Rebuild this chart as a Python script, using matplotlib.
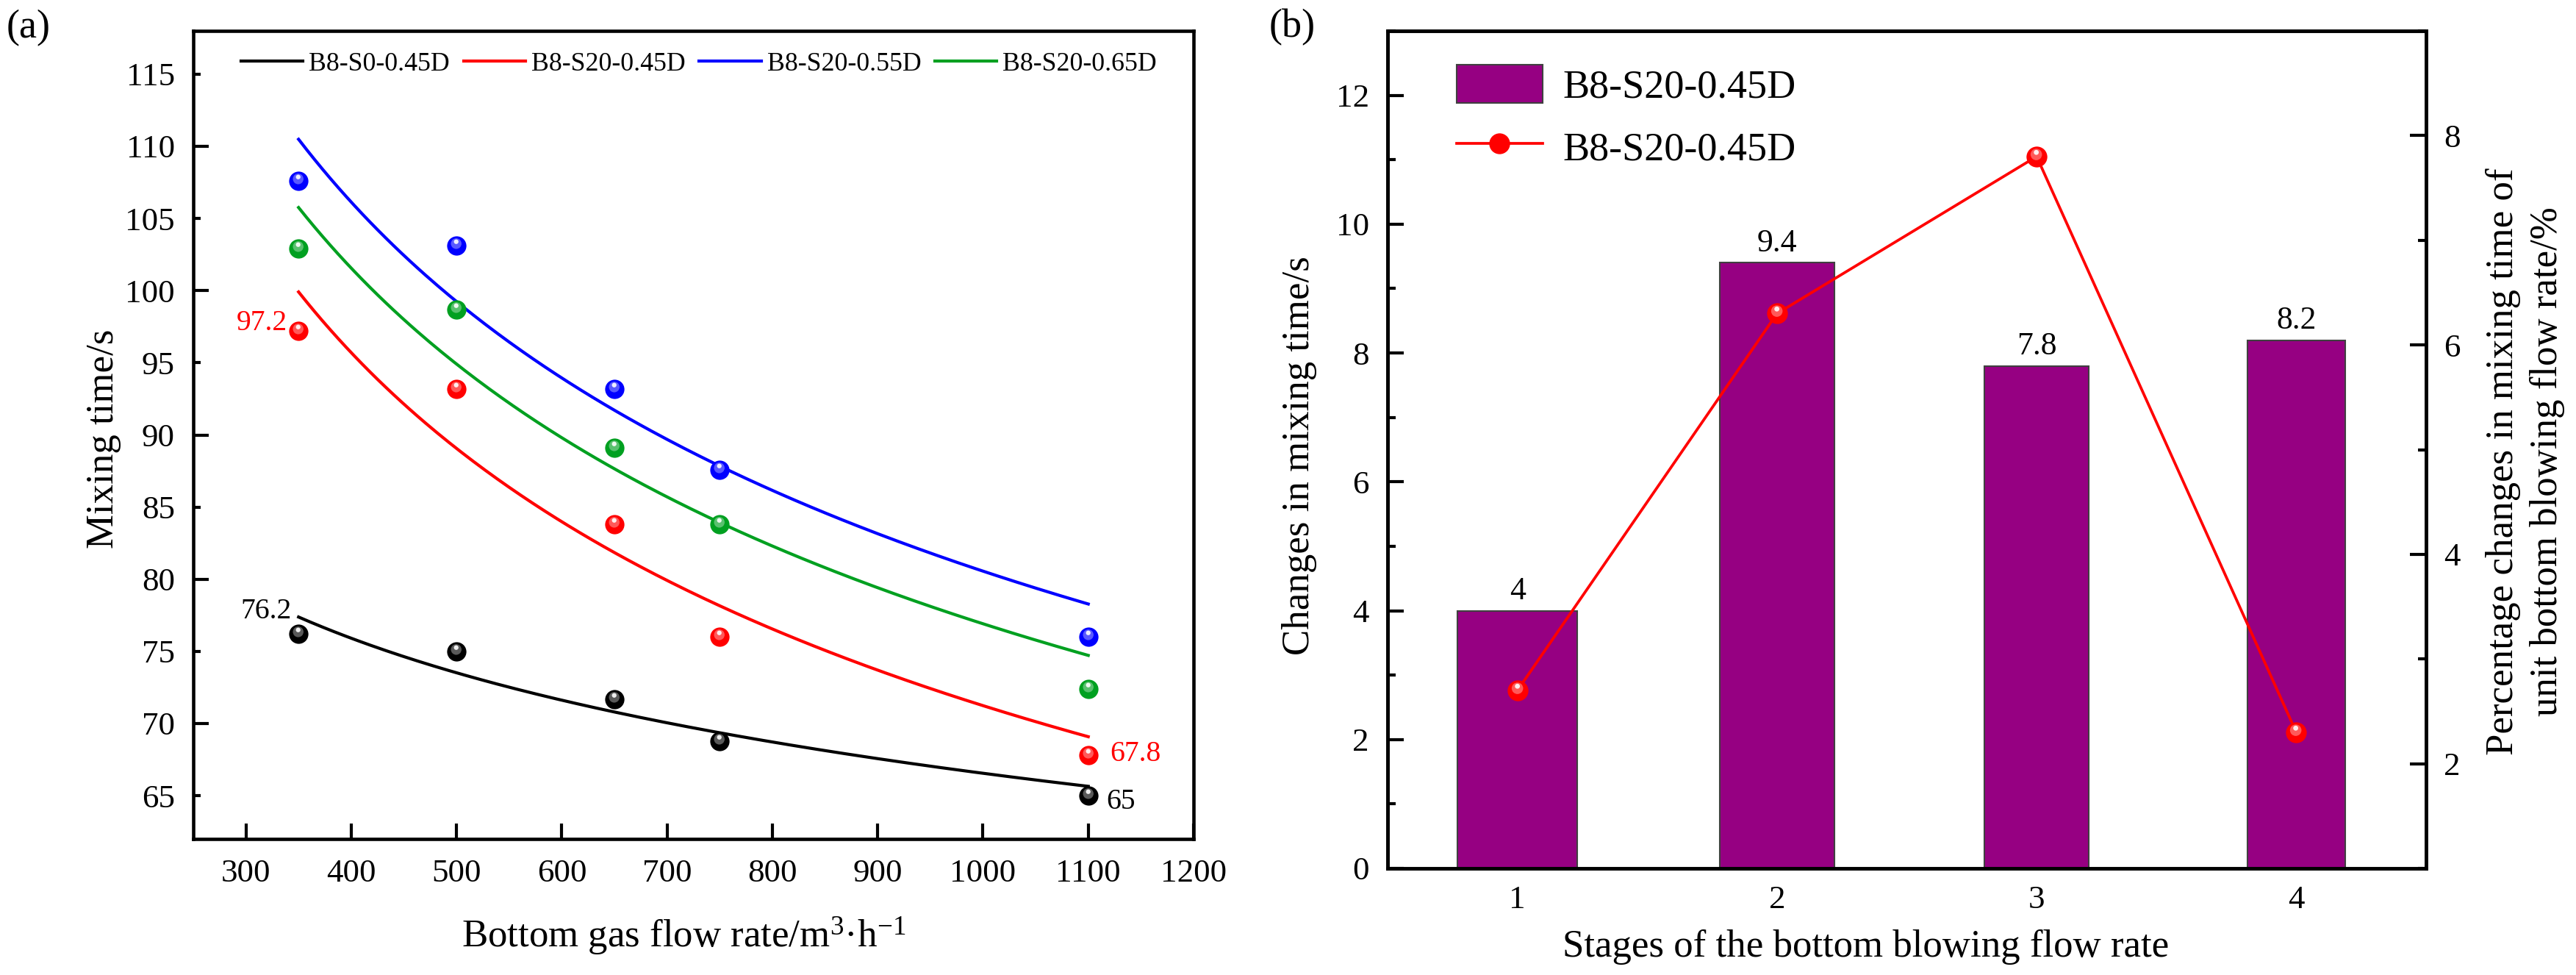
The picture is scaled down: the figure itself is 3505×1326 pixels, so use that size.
import numpy as np
import matplotlib
matplotlib.use('Agg')
import matplotlib.pyplot as plt
from matplotlib.markers import MarkerStyle
from matplotlib.transforms import Affine2D
from matplotlib.ticker import MultipleLocator, FixedLocator, FuncFormatter
from matplotlib.patches import Patch
from matplotlib.lines import Line2D
from matplotlib.colors import to_rgb

plt.rcParams['font.family'] = ['Liberation Serif', 'DejaVu Serif']
plt.rcParams['mathtext.fontset'] = 'custom'
plt.rcParams['mathtext.rm'] = 'Liberation Serif'
plt.rcParams['mathtext.it'] = 'Liberation Serif:italic'

# ---- data, panel (a): mixing time vs bottom gas flow rate
flow = [350, 500, 650, 750, 1100]
names = ['B8-S0-0.45D', 'B8-S20-0.45D', 'B8-S20-0.55D', 'B8-S20-0.65D']
t_s0_045 = [76.2, 75.0, 71.7, 68.8, 65.0]
t_s20_045 = [97.2, 93.2, 83.8, 76.0, 67.8]
t_s20_055 = [107.6, 103.1, 93.2, 87.6, 76.0]
t_s20_065 = [102.9, 98.7, 89.1, 83.8, 72.4]

# ---- data, panel (b): changes per stage
stages = [1, 2, 3, 4]
delta_t = [4, 9.4, 7.8, 8.2]
pct_change = [2.7, 6.3, 7.8, 2.3]
bar_name = 'B8-S20-0.45D'
line_name = 'B8-S20-0.45D'

colors = ['black', '#FF0000', '#0000FF', '#00A020']
purple = '#960082'
bar_widths = [0.46, 0.44, 0.40, 0.375]


def power_fit(x, y):
    # allometric fit y = a*x^b, least squares in linear space
    x = np.asarray(x, float)
    y = np.asarray(y, float)
    b, lna = np.polyfit(np.log(x), np.log(y), 1)
    a = np.exp(lna)
    for _ in range(40):
        f = a * x**b
        J = np.column_stack([x**b, a * x**b * np.log(x)])
        step = np.linalg.lstsq(J, y - f, rcond=None)[0]
        a += step[0]
        b += step[1]
    return a, b


def lighten(c, k):
    r, g, b = to_rgb(c)
    return (r + (1 - r) * k, g + (1 - g) * k, b + (1 - b) * k)


def balls(ax, x, y, color, ms, z=4):
    # shaded sphere markers
    ax.plot(x, y, ls='none', marker='o', ms=ms, color=color, mew=0, zorder=z)
    m1 = MarkerStyle('o', transform=Affine2D().scale(0.55).translate(-0.03, 0.12))
    ax.plot(x, y, ls='none', marker=m1, ms=ms, color=lighten(color, 0.35), mew=0, zorder=z)
    m2 = MarkerStyle('o', transform=Affine2D().scale(0.24).translate(-0.03, 0.22))
    ax.plot(x, y, ls='none', marker=m2, ms=ms, color='white', alpha=0.9, mew=0, zorder=z)


W, H = 3505, 1326
fig = plt.figure(figsize=(W / 300, H / 300), dpi=300)

# ================= panel (a)
ax1 = fig.add_axes([263 / W, 1 - 1141 / H, (1624 - 263) / W, (1141 - 42) / H])
xs = np.linspace(flow[0], flow[-1], 200)
for ys, c, nm in zip([t_s0_045, t_s20_045, t_s20_055, t_s20_065], colors, names):
    a, b = power_fit(flow, ys)
    ax1.plot(xs, a * xs**b, color=c, lw=1.0, label=nm, zorder=3)
    balls(ax1, flow, ys, c, 6.3)

ax1.annotate(f'{t_s20_045[0]:g}', xy=(flow[0], t_s20_045[0]), xytext=(-3.8, 2.6),
             textcoords='offset points', ha='right', va='center', color='red', fontsize=9.5)
ax1.annotate(f'{t_s0_045[0]:g}', xy=(flow[0], t_s0_045[0]), xytext=(-2.4, 7.5),
             textcoords='offset points', ha='right', va='center', color='black', fontsize=9.5)
ax1.annotate(f'{t_s20_045[-1]:g}', xy=(flow[-1], t_s20_045[-1]), xytext=(7, 0.5),
             textcoords='offset points', ha='left', va='center', color='red', fontsize=9.5)
ax1.annotate(f'{t_s0_045[-1]:g}', xy=(flow[-1], t_s0_045[-1]), xytext=(6, -2),
             textcoords='offset points', ha='left', va='center', color='black', fontsize=9.5)

ax1.set_xlim(250, 1200)
ax1.set_ylim(62, 118)
ax1.xaxis.set_major_locator(MultipleLocator(100))
ax1.yaxis.set_major_locator(FixedLocator([70, 80, 90, 100, 110]))
ax1.yaxis.set_minor_locator(FixedLocator([65, 75, 85, 95, 105, 115]))
ax1.yaxis.set_minor_formatter(FuncFormatter(lambda v, p: f'{v:g}'))
ax1.tick_params(which='both', direction='in', top=False, right=False,
                labelsize=10.8, width=1.0)
ax1.tick_params(axis='y', which='major', length=5, pad=6)
ax1.tick_params(axis='y', which='minor', length=2.4, pad=6)
ax1.tick_params(axis='x', which='major', length=5, pad=6.5)
for s in ax1.spines.values():
    s.set_linewidth(1.1)

ax1.set_xlabel('Bottom gas flow rate/m$^{3}$·h$^{-1}$', fontsize=12.7)
ax1.xaxis.set_label_coords(0.49, -0.120)
ax1.xaxis.label.set_va('center')
ax1.set_ylabel('Mixing time/s', fontsize=12.7)
ax1.yaxis.set_label_coords(-0.0896, 0.495)
ax1.yaxis.label.set_va('center')

ax1.legend(loc='center left', bbox_to_anchor=(0.0478, 0.959), ncol=4, frameon=False,
           fontsize=8.6, handlelength=2.35, handletextpad=0.22, columnspacing=0.53,
           borderpad=0, borderaxespad=0)

# ================= panel (b)
ax2 = fig.add_axes([1888 / W, 1 - 1181 / H, (3301 - 1888) / W, (1181 - 42) / H])
bars = ax2.bar(stages, delta_t, width=bar_widths, color=purple, edgecolor='#404040',
               linewidth=0.5, zorder=2)
ax2.bar_label(bars, labels=[f'{v:g}' for v in delta_t], padding=1.5, fontsize=10.5)
ax2.set_xlim(0.5, 4.5)
ax2.set_ylim(0, 13)
ax2.set_xticks(stages)
ax2.yaxis.set_major_locator(MultipleLocator(2))
ax2.yaxis.set_minor_locator(MultipleLocator(1))
ax2.tick_params(axis='x', length=0, pad=5.5, labelsize=10.8)
ax2.tick_params(axis='y', which='both', direction='in', right=False, labelsize=10.8, width=1.0, pad=6)
ax2.tick_params(axis='y', which='major', length=5.2)
ax2.tick_params(axis='y', which='minor', length=2.6)
ax2.set_xlabel('Stages of the bottom blowing flow rate', fontsize=12.7)
ax2.xaxis.set_label_coords(0.4607, -0.0939)
ax2.xaxis.label.set_va('center')
ax2.set_ylabel('Changes in mixing time/s', fontsize=12.7)
ax2.yaxis.set_label_coords(-0.0849, 0.4925)
ax2.yaxis.label.set_va('center')

ax3 = ax2.twinx()
ax3.plot(stages, pct_change, color='#FF0000', lw=0.9, zorder=3)
balls(ax3, stages, pct_change, '#FF0000', 6.8)
ax3.set_ylim(1, 9)
ax3.yaxis.set_major_locator(MultipleLocator(2))
ax3.yaxis.set_minor_locator(MultipleLocator(1))
ax3.tick_params(axis='y', which='both', direction='in', labelsize=10.8, width=1.0, pad=5.8)
ax3.tick_params(axis='y', which='major', length=5.2)
ax3.tick_params(axis='y', which='minor', length=2.6)
ax3.set_ylabel('Percentage changes in mixing time of\nunit bottom blowing flow rate/%',
               fontsize=12.7, rotation=90, linespacing=1.32)
ax3.yaxis.set_label_coords(1.0955, 0.486)
ax3.yaxis.label.set_va('center')
for ax in (ax2, ax3):
    for s in ax.spines.values():
        s.set_linewidth(1.1)

handles = [Patch(facecolor=purple, edgecolor='#404040', linewidth=0.5),
           Line2D([], [], color='#FF0000', lw=0.9, marker='o', ms=6.8, mew=0)]
ax3.legend(handles, [bar_name, line_name], loc='upper left', bbox_to_anchor=(0.0665, 0.9596),
           frameon=False, fontsize=13, handlelength=2.16, handleheight=1.09,
           handletextpad=0.5, labelspacing=0.535, borderpad=0, borderaxespad=0)

fig.text(9 / W, 1 - 38 / H, '(a)', fontsize=13, ha='left', va='center')
fig.text(1727 / W, 1 - 37 / H, '(b)', fontsize=13, ha='left', va='center')

fig.savefig('out.png', dpi=300)
